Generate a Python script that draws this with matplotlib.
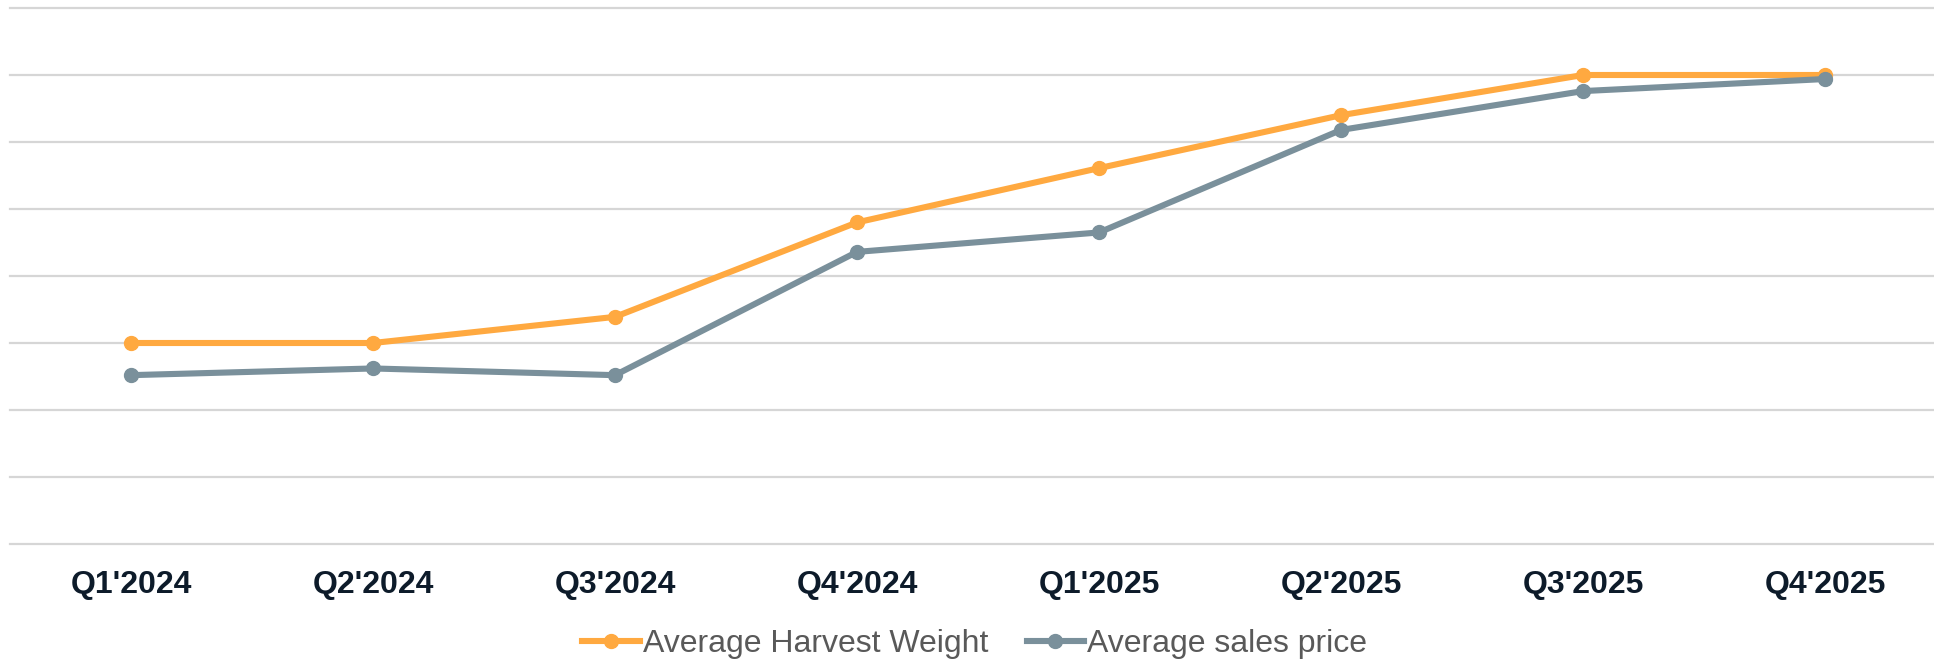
import matplotlib
matplotlib.use('Agg')
import matplotlib.pyplot as plt

plt.rcParams['font.family'] = ['Liberation Sans', 'DejaVu Sans']

# ── data ──────────────────────────────────────────────────────────────────────
quarters = ["Q1'2024", "Q2'2024", "Q3'2024", "Q4'2024",
            "Q1'2025", "Q2'2025", "Q3'2025", "Q4'2025"]
harvest_weight = [3.0, 3.0, 3.39, 4.80, 5.61, 6.40, 7.0, 7.0]
sales_price = [2.52, 2.62, 2.52, 4.36, 4.65, 6.18, 6.76, 6.94]
grid_levels = list(range(0, 9))

color_orange = '#FFA940'
color_grey = '#7A909B'

# ── figure ────────────────────────────────────────────────────────────────────
fig = plt.figure(figsize=(19.34, 6.61), dpi=100, facecolor='white')
ax = fig.add_axes([10 / 1934, 117 / 661, 1 - 10 / 1934, 536 / 661])

x = list(range(len(quarters)))
ax.plot(x, harvest_weight, '-o', color=color_orange, linewidth=4.4,
        markersize=10, label='Average Harvest Weight', zorder=3)
ax.plot(x, sales_price, '-o', color=color_grey, linewidth=4.4,
        markersize=10, label='Average sales price', zorder=4)

# gridlines
for g in grid_levels:
    ax.axhline(g, color='#d6d6d6', linewidth=1.6, zorder=1, clip_on=False)

ax.set_xlim(-0.5, 7.45)
ax.set_ylim(0, 8)
ax.set_xticks(x)
ax.set_xticklabels(quarters, fontsize=23, fontweight='bold', color='#0d1b2a')
ax.tick_params(axis='x', length=0, pad=19)
ax.set_yticks([])
for s in ax.spines.values():
    s.set_visible(False)

fig.legend(loc='center', bbox_to_anchor=(0.504, 0.026), ncol=2, frameon=False,
           fontsize=23, labelcolor='#595959', handlelength=1.8,
           handletextpad=0.1, columnspacing=1.2, borderpad=0)

plt.savefig('out.png', dpi=100, facecolor='white')
plt.close()
